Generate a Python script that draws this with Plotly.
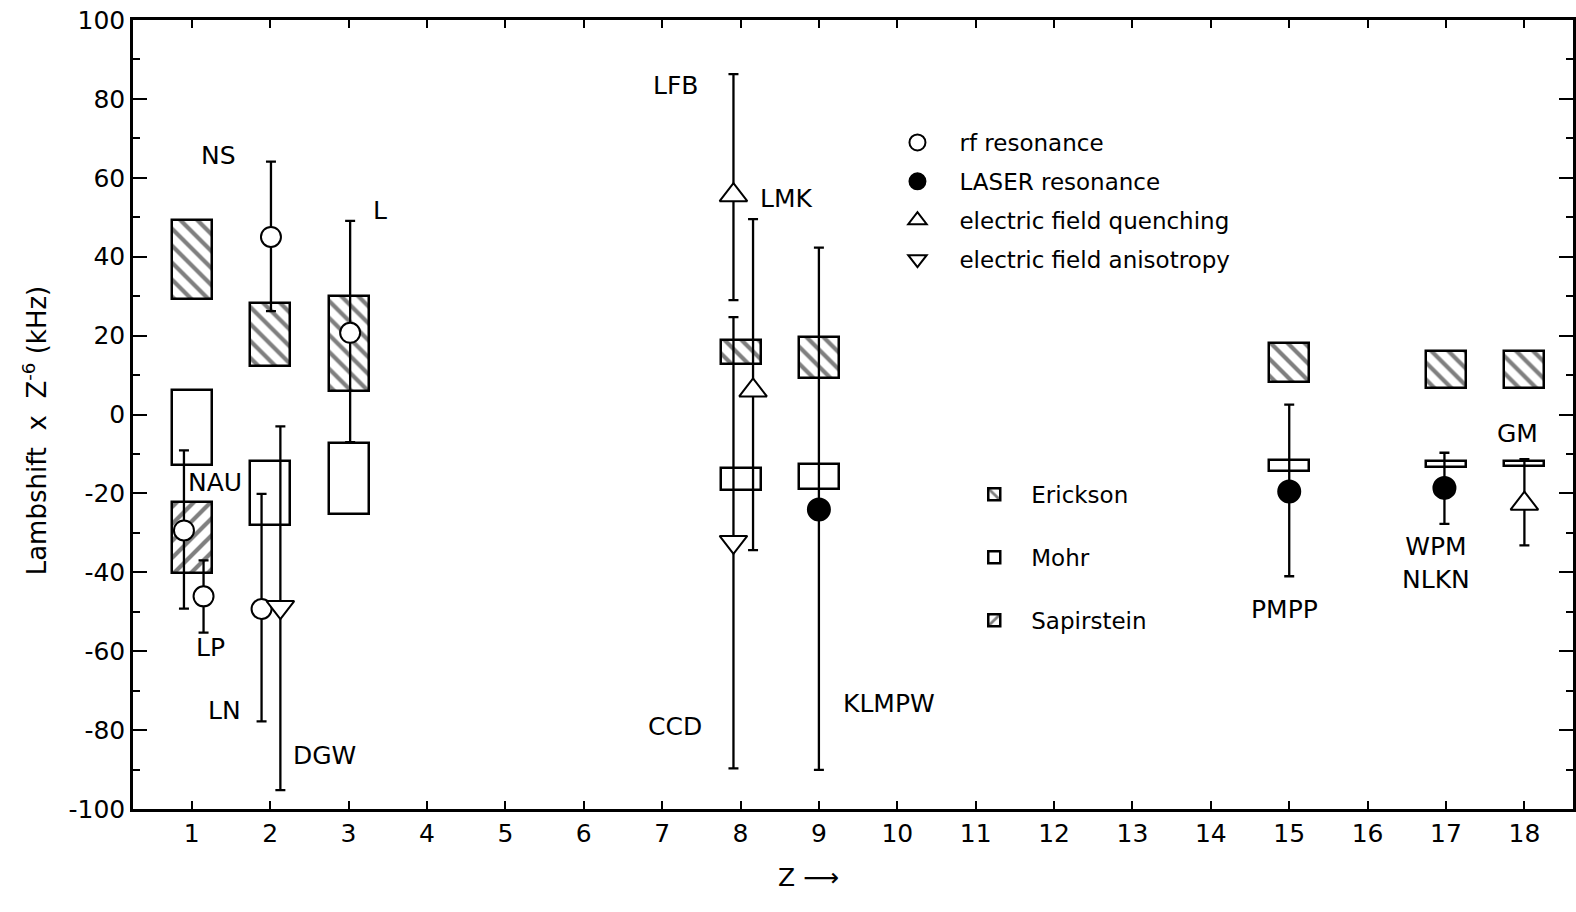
import plotly.graph_objects as go

# ---------------- data ----------------
# Theory bands: lower / upper limits of Lamb shift x Z^-6 (kHz)
box_Z = [1, 2, 3, 8, 9, 15, 17, 18]
erickson_low = [29.2, 12.3, 6.0, 12.7, 9.3, 8.2, 6.8, 6.8]
erickson_high = [49.2, 28.3, 30.0, 19.0, 19.7, 18.0, 16.1, 16.1]
mohr_low = [-12.7, -27.9, -25.1, -19.2, -18.9, -14.4, -13.3, -13.1]
mohr_high = [6.3, -11.8, -7.2, -13.5, -12.5, -11.6, -11.8, -11.8]
sap_Z = [1]
sap_low = [-40.1]
sap_high = [-22.3]

# Experiments: rf resonance
rf_label = ["NAU", "LP", "NS", "LN", "L"]
rf_Z = [1, 1, 2, 2, 3]
rf_value = [-29.4, -46.1, 45.0, -49.3, 20.7]
rf_err_plus = [20.3, 9.1, 19.1, 29.2, 28.4]
rf_err_minus = [19.8, 9.2, 18.8, 28.5, 27.7]

# LASER resonance
laser_label = ["KLMPW", "PMPP", "WPM<br>NLKN"]
laser_Z = [9, 15, 17]
laser_value = [-24.1, -19.5, -18.6]
laser_err_plus = [66.4, 22.0, 8.9]
laser_err_minus = [66.0, 21.5, 9.1]

# electric field quenching
quench_label = ["LFB", "LMK", "GM"]
quench_Z = [8, 8, 18]
quench_value = [55.6, 6.1, -22.6]
quench_err_plus = [30.7, 43.4, 11.3]
quench_err_minus = [26.6, 40.5, 10.6]

# electric field anisotropy
aniso_label = ["DGW", "CCD"]
aniso_Z = [2, 8]
aniso_value = [-48.8, -32.3]
aniso_err_plus = [45.8, 57.0]
aniso_err_minus = [46.4, 57.4]

x_ticks = list(range(1, 19))
y_ticks = list(range(-100, 101, 20))

# ---------------- display offsets (layout only) ----------------
rf_dx = [-0.10, 0.15, 0.01, -0.11, 0.02]
laser_dx = [0.0, 0.0, -0.02]
quench_dx = [-0.09, 0.16, 0.0]
aniso_dx = [0.13, -0.09]

rf_shift = [(31, 48), (7, -51), (-52, 81), (-37, -102), (30, 122)]
laser_shift = [(70, -194), (-5, -118), (-8, -75)]
quench_shift = [(-58, 110), (33, 192), (-7, 70)]
aniso_shift = [(44, -148), (-58, -185)]

FONT = "DejaVu Sans"
BLACK = "black"

fig = go.Figure()


def add_box(Z, low, high, name, shape, group):
    fig.add_trace(go.Bar(
        x=Z, y=[h - l for l, h in zip(low, high)], base=low, width=0.51,
        name=name, legend="legend2", legendgroup=group,
        marker=dict(color="white", line=dict(color=BLACK, width=2.5),
                    pattern=dict(shape=shape, fgcolor=BLACK, bgcolor="white",
                                 size=12, solidity=0.35)),
        hoverinfo="skip",
    ))


add_box(box_Z, erickson_low, erickson_high, "Erickson", "\\", "e")
add_box(box_Z, mohr_low, mohr_high, "Mohr", "", "m")
add_box(sap_Z, sap_low, sap_high, "Sapirstein", "/", "s")


def add_points(Z, dx, val, ep, em, name, symbol, fill, size, group):
    fig.add_trace(go.Scatter(
        x=[z + d for z, d in zip(Z, dx)], y=val, mode="markers", name=name,
        legend="legend", legendgroup=group,
        marker=dict(symbol=symbol, size=size, color=fill,
                    line=dict(color=BLACK, width=2)),
        error_y=dict(type="data", symmetric=False, array=ep, arrayminus=em,
                     color=BLACK, thickness=2.3, width=5),
        hoverinfo="skip",
    ))


add_points(rf_Z, rf_dx, rf_value, rf_err_plus, rf_err_minus,
           "rf resonance", "circle", "white", 20, "a")
add_points(laser_Z, laser_dx, laser_value, laser_err_plus, laser_err_minus,
           "LASER resonance", "circle", BLACK, 22, "b")
add_points(quench_Z, quench_dx, quench_value, quench_err_plus, quench_err_minus,
           "electric field quenching", "triangle-up", "white", 24, "c")
add_points(aniso_Z, aniso_dx, aniso_value, aniso_err_plus, aniso_err_minus,
           "electric field anisotropy", "triangle-down", "white", 24, "d")

# labels of the experiments
annotations = []
for labels, Zs, dxs, vals, shifts in [
    (rf_label, rf_Z, rf_dx, rf_value, rf_shift),
    (laser_label, laser_Z, laser_dx, laser_value, laser_shift),
    (quench_label, quench_Z, quench_dx, quench_value, quench_shift),
    (aniso_label, aniso_Z, aniso_dx, aniso_value, aniso_shift),
]:
    for lab, z, d, v, (sx, sy) in zip(labels, Zs, dxs, vals, shifts):
        annotations.append(dict(
            x=z + d, y=v, xref="x", yref="y", text=lab, showarrow=False,
            xshift=sx, yshift=sy, font=dict(family=FONT, size=25, color=BLACK),
        ))

# axis titles
annotations.append(dict(
    x=0.469, y=-0.108, xref="paper", yref="paper", text="Z ⟶",
    showarrow=False, font=dict(family=FONT, size=25, color=BLACK),
))
annotations.append(dict(
    x=-0.068, y=0.48, xref="paper", yref="paper", textangle=-90,
    text="Lambshift  x  Z<sup>-6</sup> (kHz)", showarrow=False,
    xanchor="center", yanchor="middle",
    font=dict(family=FONT, size=26, color=BLACK),
))

fig.update_layout(
    width=1576, height=912,
    margin=dict(l=133, r=0, t=20, b=103),
    paper_bgcolor="white", plot_bgcolor="white",
    barmode="overlay", bargap=0,
    font=dict(family=FONT, color=BLACK),
    annotations=annotations,
    legend=dict(
        x=0.5156, y=0.872, xanchor="left", yanchor="top",
        bgcolor="rgba(0,0,0,0)", borderwidth=0, itemwidth=74,
        font=dict(family=FONT, size=23, color=BLACK),
        traceorder="grouped", tracegroupgap=6, itemsizing="trace",
    ),
    legend2=dict(
        x=0.5724, y=0.426, xanchor="left", yanchor="top",
        bgcolor="rgba(0,0,0,0)", borderwidth=0, itemwidth=64,
        font=dict(family=FONT, size=23, color=BLACK),
        traceorder="grouped", tracegroupgap=30,
    ),
)

fig.update_xaxes(
    range=[0.25, 18.62], tickmode="array", tickvals=x_ticks,
    ticktext=[str(t) for t in x_ticks],
    ticks="inside", ticklen=8, tickwidth=2, tickcolor=BLACK,
    showline=True, linecolor=BLACK, linewidth=2.5, mirror="ticks",
    showgrid=False, zeroline=False,
    tickfont=dict(family=FONT, size=25, color=BLACK),
)
fig.update_yaxes(
    range=[-100, 100], tickmode="array", tickvals=y_ticks,
    ticktext=[str(t) for t in y_ticks],
    ticks="inside", ticklen=14, tickwidth=2, tickcolor=BLACK,
    minor=dict(tickmode="linear", tick0=-100, dtick=10, ticks="inside",
               ticklen=7, tickwidth=2, tickcolor=BLACK, showgrid=False),
    showline=True, linecolor=BLACK, linewidth=2.5, mirror="ticks",
    showgrid=False, zeroline=False,
    tickfont=dict(family=FONT, size=25, color=BLACK),
)

fig.write_html("out.html")
